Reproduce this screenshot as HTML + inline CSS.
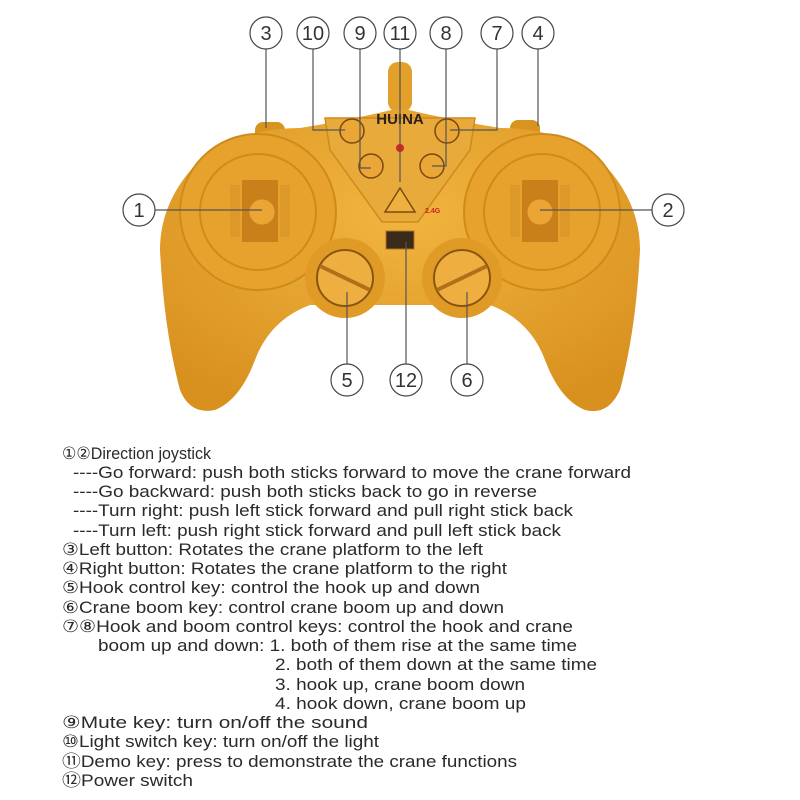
<!DOCTYPE html>
<html><head><meta charset="utf-8"><style>
html,body{margin:0;padding:0;background:#fff;}
svg{display:block;}
.t{font-family:"Liberation Sans","DejaVu Sans",sans-serif;font-size:17px;fill:#2a2a2a;}
.c{font-family:"Liberation Sans",sans-serif;font-size:20px;fill:#333;text-anchor:middle;}
</style></head><body>
<svg width="800" height="800" viewBox="0 0 800 800">
<defs>
<radialGradient id="g" cx="50%" cy="35%" r="70%"><stop offset="0" stop-color="#f2b540"/><stop offset="1" stop-color="#d8901e"/></radialGradient>
</defs>
<rect x="255" y="122" width="30" height="20" rx="8" fill="#d9941f"/>
<rect x="510" y="120" width="30" height="20" rx="8" fill="#d9941f"/>
<rect x="388" y="62" width="24" height="50" rx="10" fill="#e2a02a"/>
<path d="M200,160 Q240,128 300,128 Q350,120 400,108 Q450,120 500,128 Q560,128 600,160 Q640,200 640,250 Q636,330 620,390 Q608,416 585,410 Q560,400 545,360 Q530,320 490,305 L310,305 Q270,320 255,360 Q240,400 215,410 Q190,415 180,390 Q164,330 160,250 Q160,200 200,160 Z" fill="url(#g)"/>
<circle cx="258" cy="212" r="78" fill="#e6a22c" stroke="#cf8a1c" stroke-width="2"/>
<circle cx="258" cy="212" r="58" fill="none" stroke="#cf8a1c" stroke-width="2"/>
<circle cx="542" cy="212" r="78" fill="#e6a22c" stroke="#cf8a1c" stroke-width="2"/>
<circle cx="542" cy="212" r="58" fill="none" stroke="#cf8a1c" stroke-width="2"/>
<path d="M325,118 L475,118 L470,150 L418,222 L382,222 L330,150 Z" fill="#e9aa3c" stroke="#cf8a1c" stroke-width="1.5"/>
<text x="400" y="124" font-family="Liberation Sans,sans-serif" font-weight="bold" font-size="15" text-anchor="middle" fill="#2a2020">HUINA</text>
<circle cx="352" cy="131" r="12" fill="#eaa636" stroke="#7a4a10" stroke-width="1.5"/>
<circle cx="447" cy="131" r="12" fill="#eaa636" stroke="#7a4a10" stroke-width="1.5"/>
<circle cx="371" cy="166" r="12" fill="#eaa636" stroke="#7a4a10" stroke-width="1.5"/>
<circle cx="432" cy="166" r="12" fill="#eaa636" stroke="#7a4a10" stroke-width="1.5"/>
<circle cx="400" cy="148" r="4" fill="#d22"/>
<path d="M400,188 L415,212 L385,212 Z" fill="#f0b040" stroke="#7a4a10" stroke-width="1.5"/>
<text x="425" y="213" font-family="Liberation Sans,sans-serif" font-weight="bold" font-size="7" fill="#c22">2.4G</text>
<rect x="242" y="180" width="36" height="62" fill="#c9801a"/>
<rect x="230" y="185" width="10" height="52" fill="#dc9828"/>
<rect x="280" y="185" width="10" height="52" fill="#dc9828"/>
<circle cx="262" cy="212" r="13" fill="#eaa534" stroke="#c7841b"/>
<rect x="522" y="180" width="36" height="62" fill="#c9801a"/>
<rect x="510" y="185" width="10" height="52" fill="#dc9828"/>
<rect x="560" y="185" width="10" height="52" fill="#dc9828"/>
<circle cx="540" cy="212" r="13" fill="#eaa534" stroke="#c7841b"/>
<circle cx="345" cy="278" r="40" fill="#e09a26"/>
<circle cx="345" cy="278" r="28" fill="#eeae40" stroke="#8a5512" stroke-width="2"/>
<line x1="320" y1="266" x2="370" y2="290" stroke="#b0701a" stroke-width="4"/>
<circle cx="462" cy="278" r="40" fill="#e09a26"/>
<circle cx="462" cy="278" r="28" fill="#eeae40" stroke="#8a5512" stroke-width="2"/>
<line x1="437" y1="290" x2="487" y2="266" stroke="#b0701a" stroke-width="4"/>
<rect x="386" y="231" width="28" height="18" fill="#3a2a18" stroke="#b07020"/>
<g stroke="#555" stroke-width="1.2" fill="none">
<path d="M266,49 V128"/><path d="M313,49 V130 H345"/><path d="M360,49 V168 H371"/><path d="M400,49 V182"/>
<path d="M446,49 V166 H432"/><path d="M497,49 V130 H450"/><path d="M538,49 V126"/>
<path d="M155,210 H262"/><path d="M652,210 H540"/>
<path d="M347,364 V292"/><path d="M406,364 V242"/><path d="M467,364 V292"/>
</g>
<g fill="#fff" stroke="#444" stroke-width="1.2">
<circle cx="266" cy="33" r="16"/><circle cx="313" cy="33" r="16"/><circle cx="360" cy="33" r="16"/><circle cx="400" cy="33" r="16"/>
<circle cx="446" cy="33" r="16"/><circle cx="497" cy="33" r="16"/><circle cx="538" cy="33" r="16"/>
<circle cx="139" cy="210" r="16"/><circle cx="668" cy="210" r="16"/>
<circle cx="347" cy="380" r="16"/><circle cx="406" cy="380" r="16"/><circle cx="467" cy="380" r="16"/>
</g>
<g class="c">
<text x="266" y="40">3</text><text x="313" y="40">10</text><text x="360" y="40">9</text><text x="400" y="40">11</text>
<text x="446" y="40">8</text><text x="497" y="40">7</text><text x="538" y="40">4</text>
<text x="139" y="217">1</text><text x="668" y="217">2</text>
<text x="347" y="387">5</text><text x="406" y="387">12</text><text x="467" y="387">6</text>
</g>
<g class="t">
<text x="62" y="459" textLength="149" lengthAdjust="spacingAndGlyphs">①②Direction joystick</text>
<text x="73" y="478" textLength="558" lengthAdjust="spacingAndGlyphs">----Go forward: push both sticks forward to move the crane forward</text>
<text x="73" y="497" textLength="464" lengthAdjust="spacingAndGlyphs">----Go backward: push both sticks back to go in reverse</text>
<text x="73" y="516" textLength="500" lengthAdjust="spacingAndGlyphs">----Turn right: push left stick forward and pull right stick back</text>
<text x="73" y="536" textLength="488" lengthAdjust="spacingAndGlyphs">----Turn left: push right stick forward and pull left stick back</text>
<text x="62" y="555" textLength="421" lengthAdjust="spacingAndGlyphs">③Left button: Rotates the crane platform to the left</text>
<text x="62" y="574" textLength="445" lengthAdjust="spacingAndGlyphs">④Right button: Rotates the crane platform to the right</text>
<text x="62" y="593" textLength="418" lengthAdjust="spacingAndGlyphs">⑤Hook control key: control the hook up and down</text>
<text x="62" y="613" textLength="442" lengthAdjust="spacingAndGlyphs">⑥Crane boom key: control crane boom up and down</text>
<text x="62" y="632" textLength="511" lengthAdjust="spacingAndGlyphs">⑦⑧Hook and boom control keys: control the hook and crane</text>
<text x="98" y="651" textLength="479" lengthAdjust="spacingAndGlyphs">boom up and down: 1. both of them rise at the same time</text>
<text x="275" y="670" textLength="322" lengthAdjust="spacingAndGlyphs">2. both of them down at the same time</text>
<text x="275" y="690" textLength="250" lengthAdjust="spacingAndGlyphs">3. hook up, crane boom down</text>
<text x="275" y="709" textLength="251" lengthAdjust="spacingAndGlyphs">4. hook down, crane boom up</text>
<text x="62" y="728" textLength="306" lengthAdjust="spacingAndGlyphs">⑨Mute key: turn on/off the sound</text>
<text x="62" y="747" textLength="317" lengthAdjust="spacingAndGlyphs">⑩Light switch key: turn on/off the light</text>
<text x="62" y="767" textLength="455" lengthAdjust="spacingAndGlyphs">⑪Demo key: press to demonstrate the crane functions</text>
<text x="62" y="786" textLength="131" lengthAdjust="spacingAndGlyphs">⑫Power switch</text>
</g>
</svg>
</body></html>
